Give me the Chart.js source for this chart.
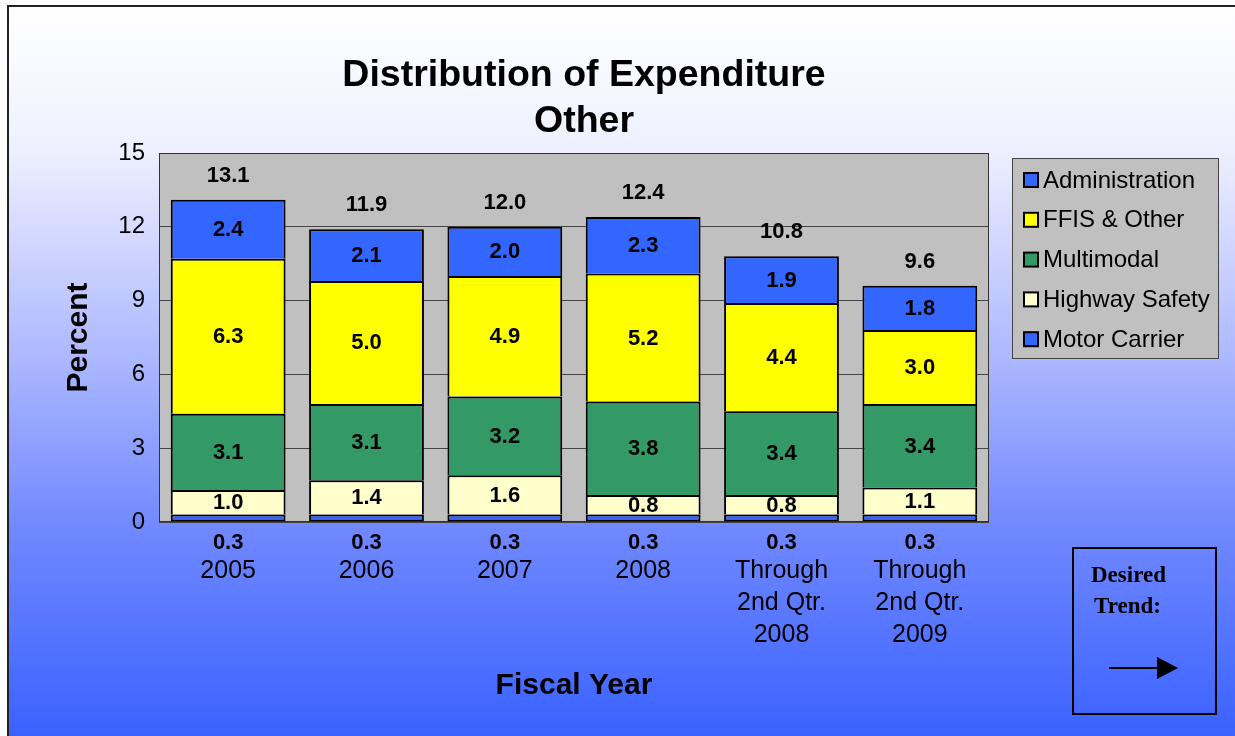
<!DOCTYPE html>
<html>
<head>
<meta charset="utf-8">
<script src="https://cdn.jsdelivr.net/npm/chart.js@4/dist/chart.umd.min.js"></script>
<style>
    html, body { margin: 0; padding: 0; background: #fff; }
    #wrap { width: 1235px; height: 736px; }
</style>
</head>
<body>
<div id="wrap"><canvas id="chart" width="1235" height="736"></canvas></div>
<script>
// Chart data
const categories = ['2005', '2006', '2007', '2008', ['Through', '2nd Qtr.', '2008'], ['Through', '2nd Qtr.', '2009']];
const motorCarrier = [0.3, 0.3, 0.3, 0.3, 0.3, 0.3];
const highwaySafety = [1.0, 1.4, 1.6, 0.8, 0.8, 1.1];
const multimodal = [3.1, 3.1, 3.2, 3.8, 3.4, 3.4];
const ffisOther = [6.3, 5.0, 4.9, 5.2, 4.4, 3.0];
const administration = [2.4, 2.1, 2.0, 2.3, 1.9, 1.8];
const totals = [13.1, 11.9, 12.0, 12.4, 10.8, 9.6];
const yTicks = [0, 3, 6, 9, 12, 15];

const FONT = '"Liberation Sans", Arial, sans-serif';
const SERIF = '"Liberation Serif", "Times New Roman", serif';

// helper to build a dataset
function makeDataset(label, color, data, skip) {
    return {
        label,
        data,
        backgroundColor: color,
        borderColor: '#000',
        borderWidth: 2,
        borderSkipped: skip,
        barPercentage: 0.83,
        categoryPercentage: 1.0,
    };
}

const datasets = [
    makeDataset('Motor Carrier', '#3366FF', motorCarrier, false),
    makeDataset('Highway Safety', '#FFFFCC', highwaySafety, 'start'),
    makeDataset('Multimodal', '#339966', multimodal, 'start'),
    makeDataset('FFIS & Other', '#FFFF00', ffisOther, 'start'),
    makeDataset('Administration', '#3366FF', administration, 'start'),
];

// background, plot area, labels, legend and the trend box
const decorPlugin = {
    id: 'decor',
    beforeDraw(chart) {
        const c = chart.ctx;
        const W = chart.width, H = chart.height;
        const a = chart.chartArea;
        c.save();
        c.fillStyle = '#fff';
        c.fillRect(0, 0, W, H);
        const g = c.createLinearGradient(0, 6, 0, H);
        g.addColorStop(0, '#FFFFFF');
        g.addColorStop(144 / 730, '#EEF0FF');
        g.addColorStop(344 / 730, '#AFBAFF');
        g.addColorStop(524 / 730, '#7088FF');
        g.addColorStop(1, '#3A62FF');
        c.fillStyle = g;
        c.fillRect(8, 6, W - 8, H - 6);
        // frame
        c.strokeStyle = '#222';
        c.lineWidth = 2;
        c.beginPath();
        c.moveTo(8, H);
        c.lineTo(8, 6);
        c.lineTo(W, 6);
        c.stroke();
        // plot area
        c.fillStyle = '#C0C0C0';
        c.fillRect(a.left, a.top, a.right - a.left, a.bottom - a.top);
        c.restore();
    },
    beforeDatasetsDraw(chart) {
        const c = chart.ctx;
        const a = chart.chartArea;
        c.save();
        c.strokeStyle = '#333';
        c.lineWidth = 1;
        c.strokeRect(a.left + 0.5, a.top + 0.5, a.right - a.left - 1, a.bottom - a.top - 1);
        c.restore();
    },
    afterDatasetsDraw(chart) {
        const c = chart.ctx;
        const a = chart.chartArea;
        c.save();
        c.fillStyle = '#000';
        c.textAlign = 'center';
        c.textBaseline = 'middle';
        c.font = 'bold 22px ' + FONT;
        chart.data.datasets.forEach((ds, i) => {
            const meta = chart.getDatasetMeta(i);
            meta.data.forEach((bar, j) => {
                const v = ds.data[j].toFixed(1);
                if (i === 0) {
                    // the thin bottom segment is labelled below the axis
                    c.fillText(v, bar.x, a.bottom + 21);
                } else {
                    c.fillText(v, bar.x, (bar.y + bar.base) / 2 + 1);
                }
            });
        });
        // totals above each bar
        const top = chart.getDatasetMeta(chart.data.datasets.length - 1);
        top.data.forEach((bar, j) => {
            c.fillText(totals[j].toFixed(1), bar.x, bar.y - 24);
        });
        c.restore();
    },
    afterDraw(chart) {
        const c = chart.ctx;
        const a = chart.chartArea;
        c.save();
        c.fillStyle = '#000';
        c.textAlign = 'center';
        c.textBaseline = 'middle';
        // title
        c.font = 'bold 37.5px ' + FONT;
        c.fillText('Distribution of Expenditure', 584, 76);
        c.fillText('Other', 584, 122);
        // axis titles
        c.font = 'bold 30px ' + FONT;
        c.fillText('Fiscal Year', (a.left + a.right) / 2, 686);
        c.save();
        c.translate(79, (a.top + a.bottom) / 2);
        c.rotate(-Math.PI / 2);
        c.fillText('Percent', 0, 0);
        c.restore();

        // legend (reverse stacking order)
        const lx = 1012, ly = 158, lw = 206, lh = 200;
        c.fillStyle = '#C0C0C0';
        c.fillRect(lx, ly, lw, lh);
        c.strokeStyle = '#444';
        c.lineWidth = 1;
        c.strokeRect(lx + 0.5, ly + 0.5, lw, lh);
        c.font = '24px ' + FONT;
        c.textAlign = 'left';
        const items = chart.data.datasets.slice().reverse();
        items.forEach((ds, k) => {
            const cy = 180 + k * 39.8;
            c.fillStyle = ds.backgroundColor;
            c.fillRect(1024, cy - 7, 14, 14);
            c.strokeStyle = '#000';
            c.lineWidth = 2;
            c.strokeRect(1024, cy - 7, 14, 14);
            c.fillStyle = '#000';
            c.fillText(ds.label, 1043, cy + 1);
        });

        // desired trend box
        c.strokeStyle = '#000';
        c.lineWidth = 2;
        c.strokeRect(1073, 548, 143, 166);
        c.font = 'bold 23px ' + SERIF;
        c.fillText('Desired', 1091, 576);
        c.fillText('Trend:', 1094, 607);
        c.beginPath();
        c.moveTo(1109, 668);
        c.lineTo(1160, 668);
        c.stroke();
        c.beginPath();
        c.moveTo(1157, 657);
        c.lineTo(1178, 668);
        c.lineTo(1157, 679);
        c.closePath();
        c.fill();
        c.restore();
    }
};

const ctx = document.getElementById('chart');
new Chart(ctx, {
    type: 'bar',
    data: { labels: categories, datasets },
    options: {
        responsive: false,
        animation: false,
        events: [],
        layout: { padding: { top: 153, right: 246, left: 0, bottom: 0 } },
        plugins: {
            legend: { display: false },
            title: { display: false },
            tooltip: { enabled: false },
        },
        scales: {
            x: {
                stacked: true,
                grid: { display: false, drawTicks: false },
                border: { display: false },
                ticks: {
                    color: '#000',
                    font: { family: FONT, size: 25, lineHeight: 1.28 },
                    padding: 33,
                    maxRotation: 0,
                    autoSkip: false,
                },
                afterFit(scale) { scale.height = 214; },
            },
            y: {
                stacked: true,
                min: 0,
                max: 15,
                afterBuildTicks(scale) { scale.ticks = yTicks.map(v => ({ value: v })); },
                grid: { color: '#444', lineWidth: 1, drawTicks: false },
                border: { display: false },
                ticks: {
                    color: '#000',
                    font: { family: FONT, size: 24 },
                    padding: 14,
                },
                afterFit(scale) { scale.width = 159; },
            },
        },
    },
    plugins: [decorPlugin],
});
</script>
</body>
</html>
